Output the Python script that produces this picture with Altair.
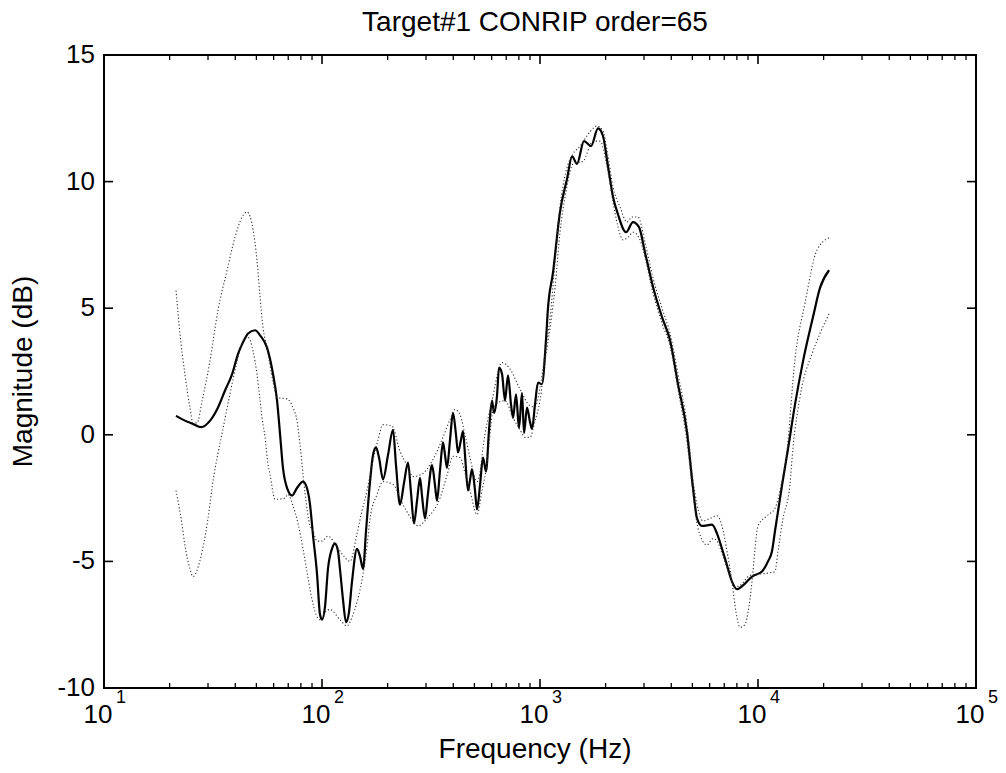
import altair as alt
import pandas as pd

FONT = "Liberation Sans"
TITLE = "Target#1 CONRIP order=65"
X_TITLE = "Frequency (Hz)"
Y_TITLE = "Magnitude (dB)"

# ---- solid curve (response) ----
SOLID_HZ = [21.4, 23.0, 25.6, 27.9, 30.6, 33.3, 35.9, 38.7, 41.2, 43.4,
            45.8, 49.3, 52.0, 55.9, 59.6, 62.2, 64.2, 66.2, 69.1, 72.9,
            76.8, 81.8, 85.3, 88.1, 90.9, 94.9, 97.9, 100, 103.2, 106.5,
            111.1, 114.7, 118.4, 120.9, 124.8, 128.9, 133.0, 137.3, 144.8, 149.4,
            154.3, 159.2, 166.1, 171.4, 176.9, 182.6, 190.5, 200.8, 211.7, 218.5,
            227.9, 237.8, 248.1, 256.1, 264.2, 272.9, 281.6, 287.5, 296.9, 306.4,
            319.6, 329.9, 337.0, 347.8, 358.9, 366.7, 374.5, 386.6, 398.9, 411.8,
            420.6, 434.1, 443.4, 452.9, 467.4, 477.4, 487.6, 503.3, 514.0, 530.6,
            547.8, 565.4, 583.8, 602.5, 615.3, 635.2, 648.7, 669.6, 691.0, 713.3,
            736.3, 751.9, 776.2, 801.2, 826.9, 844.6, 871.8, 900.0, 919.2, 948.6,
            979.1, 1021, 1065, 1088, 1147, 1235, 1330, 1403, 1478, 1591,
            1714, 1846, 1945, 2051, 2162, 2280, 2481, 2671, 2846, 3032,
            3298, 3628, 3949, 4295, 4725, 5033, 5251, 5536, 6152, 6486,
            6838, 7208, 7598, 8012, 8535, 9387, 10431, 11114, 11592, 11967,
            12888, 13733, 14784, 16085, 17876, 19250, 21170]
SOLID_DB = [0.75, 0.6, 0.43, 0.3, 0.55, 1.07, 1.75, 2.4, 3.2, 3.65,
            4.0, 4.13, 3.93, 3.45, 2.4, 1.35, 0.03, -1.3, -2.1, -2.4,
            -2.1, -1.85, -2.1, -2.75, -3.95, -5.5, -7.1, -7.3, -6.8, -5.3,
            -4.5, -4.3, -4.6, -5.3, -6.5, -7.4, -7.0, -5.8, -4.5, -4.8,
            -5.3, -3.8, -1.84, -0.8, -0.5, -0.9, -1.76, -0.8, 0.2, -1.2,
            -2.76, -1.9, -1.1, -2.3, -3.5, -2.6, -1.7, -2.4, -3.3, -2.3,
            -1.2, -2.0, -2.6, -1.4, -0.3, -0.8, -1.3, -0.2, 0.87, 0.0,
            -0.7, -0.2, 0.15, -0.8, -2.2, -1.8, -1.35, -2.2, -2.95, -2.0,
            -0.9, -1.45, 0.2, 1.35, 0.87, 1.55, 2.65, 2.4, 1.35, 2.35,
            1.2, 0.67, 1.6, 0.27, 1.65, 0.07, 1.07, 0.5, 0.23, 1.2,
            2.06, 2.0, 3.73, 5.0, 6.4, 8.8, 10.1, 11.0, 10.7, 11.6,
            11.4, 12.1, 11.8, 10.6, 9.4, 8.7, 8.0, 8.4, 8.2, 7.2,
            5.85, 4.65, 3.73, 2.0, 0.1, -2.1, -3.3, -3.6, -3.55, -3.9,
            -4.5, -5.15, -5.8, -6.1, -5.95, -5.6, -5.4, -5.0, -4.6, -3.8,
            -2.0, -0.55, 1.2, 2.9, 4.65, 5.8, 6.5]

# ---- first dotted curve ----
DOT_A_HZ = [21.4, 22.3, 23.5, 24.8, 25.6, 26.7, 28.2, 30.6, 33.3, 36.7,
            39.9, 43.0, 45.3, 48.3, 50.3, 52.0, 53.6, 55.9, 59.6, 62.2,
            69.1, 73.6, 76.8, 79.3, 83.6, 88.1, 90.9, 94.9, 100, 106.5,
            114.7, 123.5, 134.4, 144.8, 152.6, 160.9, 171.4, 180.7, 190.5, 209.5,
            227.9, 245.5, 261.5, 287.5, 319.6, 358.9, 386.6, 407.4, 429.5, 452.9,
            477.4, 514.0, 530.6, 547.8, 602.5, 669.6, 728.5, 809.7, 900.0, 948.6,
            1000, 1054, 1111, 1172, 1235, 1316, 1418, 1526, 1696, 1826,
            1945, 2051, 2162, 2328, 2507, 2642, 2816, 3032, 3298, 3628,
            3949, 4295, 4725, 5033, 5251, 5595, 6025, 6486, 6838, 7208,
            7598, 7927, 8268, 8716, 9000, 9387, 9688, 10000, 11000, 11967,
            12755, 13588, 14784, 16430, 18650, 21400]
DOT_A_DB = [5.7, 4.0, 2.4, 1.07, 0.47, 0.47, 1.35, 2.9, 4.9, 6.5,
            7.8, 8.6, 8.8, 8.1, 6.9, 5.45, 4.25, 3.45, 2.1, 1.47,
            1.42, 1.07, 0.55, -0.4, -2.3, -3.6, -3.8, -4.2, -4.2, -4.0,
            -4.3, -4.7, -5.0, -3.9, -3.0, -2.2, -1.0, -0.2, 0.4, 0.35,
            -0.65, -1.2, -1.65, -1.55, -1.05, -0.1, 0.6, 1.0, 0.8, 0.0,
            -0.9, -1.85, -1.5, -0.5, 1.35, 2.85, 2.6, 1.8, 1.15, 1.1,
            1.85, 3.2, 4.6, 6.8, 9.0, 10.4, 11.1, 11.4, 11.97, 12.2,
            12.0, 11.0, 9.8, 9.0, 8.4, 8.6, 8.6, 7.6, 6.2, 5.0,
            4.0, 2.4, 0.4, -1.8, -2.75, -3.4, -3.3, -3.2, -3.6, -4.6,
            -5.8, -7.0, -7.6, -7.5, -7.0, -5.8, -4.5, -3.6, -3.2, -2.9,
            -2.0, -0.6, 3.0, 5.2, 7.3, 7.8]

# ---- second dotted curve ----
DOT_B_HZ = [21.4, 22.8, 23.5, 24.8, 25.6, 26.7, 28.2, 30.0, 31.6, 33.3,
            35.2, 37.8, 40.8, 43.4, 45.8, 48.3, 50.3, 52.0, 53.1, 54.8,
            56.5, 57.7, 60.9, 67.7, 69.8, 73.6, 77.6, 81.8, 85.3, 90.0,
            93.9, 97.9, 103.2, 108.8, 120.9, 130.2, 137.3, 144.8, 154.3, 160.9,
            166.1, 178.8, 190.5, 211.7, 235.3, 261.5, 275.8, 303.2, 347.8, 374.5,
            398.9, 429.5, 452.9, 477.4, 514.0, 542.0, 571.4, 608.8, 641.9, 691.0,
            751.9, 809.7, 853.6, 900.0, 948.6, 1000, 1054, 1111, 1172, 1235,
            1316, 1418, 1575, 1751, 1884, 2029, 2162, 2280, 2403, 2533,
            2671, 2876, 3032, 3298, 3628, 3949, 4295, 4725, 5033, 5307,
            5836, 6218, 6486, 6910, 7440, 7843, 8268, 9192, 10214, 11350,
            11967, 12352, 13025, 14000, 14477, 15583, 17876, 19250, 21400]
DOT_B_DB = [-2.2, -3.55, -4.35, -5.3, -5.6, -5.35, -4.6, -3.3, -1.85, -0.75,
            0.27, 1.6, 2.9, 3.7, 3.85, 3.3, 2.4, 1.35, 0.67, -0.1,
            -1.15, -1.55, -2.55, -2.5, -2.35, -2.8, -3.5, -4.5, -5.4, -6.5,
            -7.1, -7.3, -7.0, -6.9, -7.3, -7.55, -7.2, -6.6, -5.5, -4.4,
            -3.3, -2.36, -1.85, -1.96, -2.76, -3.4, -3.6, -3.3, -2.5, -1.6,
            -0.85, -0.9, -1.5, -2.2, -3.15, -2.2, -1.15, 0.95, 1.27, 1.35,
            0.67, 0.2, -0.1, -0.1, 0.55, 1.35, 2.9, 4.2, 5.8, 8.0,
            9.6, 10.7, 10.8, 11.6, 11.6, 10.6, 9.2, 8.2, 7.7, 7.8,
            8.0, 7.7, 7.0, 5.6, 4.4, 3.5, 1.8, -0.3, -2.3, -3.7,
            -4.35, -4.1, -4.2, -4.8, -5.6, -6.0, -5.95, -5.55, -5.5, -5.45,
            -5.4, -4.6, -3.3, -2.0, -0.5, 1.5, 3.3, 4.0, 4.85]

assert len(SOLID_HZ) == len(SOLID_DB)
assert len(DOT_A_HZ) == len(DOT_A_DB)
assert len(DOT_B_HZ) == len(DOT_B_DB)

# ---- axis ticks and labels ----
Y_TICKS = [-10, -5, 0, 5, 10, 15]
Y_LABELS = ["-10", "-5", "0", "5", "10", "15"]
X_MAJOR = [10, 100, 1000, 10000, 100000]
X_EXP = ["1", "2", "3", "4", "5"]
X_MINOR = [m * d for d in [10, 100, 1000, 10000] for m in range(2, 10)]

W, H = 872, 633
TICK_MAJ, TICK_MIN = 9, 5

xs = alt.Scale(type="log", domain=[10, 100000], nice=False)
ys = alt.Scale(domain=[-10, 15], nice=False, zero=False)

solid = pd.DataFrame({"f": SOLID_HZ, "db": SOLID_DB})
dot_a = pd.DataFrame({"f": DOT_A_HZ, "db": DOT_A_DB})
dot_b = pd.DataFrame({"f": DOT_B_HZ, "db": DOT_B_DB})
yt = pd.DataFrame({"v": Y_TICKS, "lab": Y_LABELS})
xmaj = pd.DataFrame({"f": X_MAJOR, "exp": X_EXP, "base": ["10"] * 5})
xmin = pd.DataFrame({"f": X_MINOR})
texts = pd.DataFrame({"title": [TITLE], "xt": [X_TITLE], "yt": [Y_TITLE]})

X = lambda fld="f": alt.X(f"{fld}:Q", scale=xs, axis=None)
Y = lambda fld="db": alt.Y(f"{fld}:Q", scale=ys, axis=None)

dotted = dict(strokeDash=[1.2, 2.2], strokeWidth=1.1, color="#333333", interpolate="monotone")

l_solid = alt.Chart(solid).mark_line(color="black", strokeWidth=2.2, interpolate="monotone").encode(x=X(), y=Y())
l_a = alt.Chart(dot_a).mark_line(**dotted).encode(x=X(), y=Y())
l_b = alt.Chart(dot_b).mark_line(**dotted).encode(x=X(), y=Y())

rule = dict(color="black", strokeWidth=1.6)
ytl = alt.Chart(yt).mark_rule(**rule).encode(y=Y("v"), x=alt.value(0), x2=alt.value(TICK_MAJ))
ytr = alt.Chart(yt).mark_rule(**rule).encode(y=Y("v"), x=alt.value(W), x2=alt.value(W - TICK_MAJ))
xtb = alt.Chart(xmaj).mark_rule(**rule).encode(x=X(), y=alt.value(H), y2=alt.value(H - TICK_MAJ))
xtt = alt.Chart(xmaj).mark_rule(**rule).encode(x=X(), y=alt.value(0), y2=alt.value(TICK_MAJ))
xmb = alt.Chart(xmin).mark_rule(color="black", strokeWidth=1.3).encode(
    x=X(), y=alt.value(H), y2=alt.value(H - TICK_MIN))
xmt = alt.Chart(xmin).mark_rule(color="black", strokeWidth=1.3).encode(
    x=X(), y=alt.value(0), y2=alt.value(TICK_MIN))

txt = dict(font=FONT, color="black")
ylab = alt.Chart(yt).mark_text(fontSize=26, align="right", baseline="middle", dx=-9, **txt).encode(
    y=Y("v"), x=alt.value(0), text="lab:N")
xbase = alt.Chart(xmaj).mark_text(fontSize=26, align="center", baseline="alphabetic", dx=-6, **txt).encode(
    x=X(), y=alt.value(H + 35), text="base:N")
xexp = alt.Chart(xmaj).mark_text(fontSize=18, align="left", baseline="alphabetic", dx=12, **txt).encode(
    x=X(), y=alt.value(H + 15), text="exp:N")
t_title = alt.Chart(texts).mark_text(fontSize=28, align="center", baseline="alphabetic", **txt).encode(
    x=alt.value(W / 2 - 5), y=alt.value(-24), text="title:N")
t_x = alt.Chart(texts).mark_text(fontSize=28, align="center", baseline="alphabetic", **txt).encode(
    x=alt.value(W / 2 - 5), y=alt.value(H + 70), text="xt:N")
t_y = alt.Chart(texts).mark_text(fontSize=28, align="center", baseline="middle", angle=270, **txt).encode(
    x=alt.value(-80), y=alt.value(H / 2), text="yt:N")

chart = alt.layer(l_solid, l_a, l_b, ytl, ytr, xtb, xtt, xmb, xmt,
                  ylab, xbase, xexp, t_title, t_x, t_y).properties(
    width=W, height=H,
    padding={"left": 104, "top": 55, "right": 30, "bottom": 85},
    autosize=alt.AutoSizeParams(type="none"),
).configure_view(stroke="black", strokeWidth=2)

chart.save("out.html", embed_options={"renderer": "svg", "actions": False})
